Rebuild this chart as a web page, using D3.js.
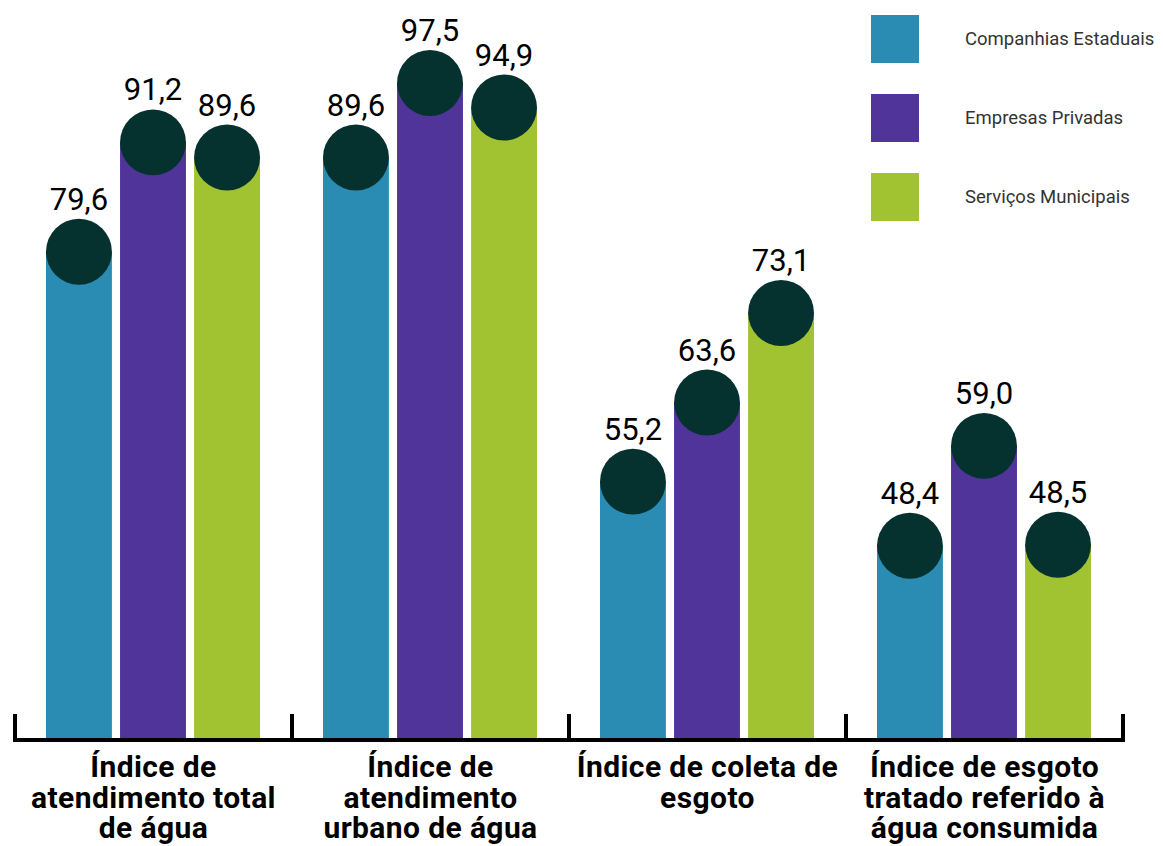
<!DOCTYPE html>
<html><head><meta charset="utf-8">
<script src="https://cdn.jsdelivr.net/npm/d3@7"></script>
<style>body{margin:0;background:#fff}svg{display:block}</style>
</head><body>
<svg id="chart" width="1163" height="846"></svg>
<script>
const categories = [
  ["Índice de","atendimento total","de água"],
  ["Índice de","atendimento","urbano de água"],
  ["Índice de coleta de","esgoto"],
  ["Índice de esgoto","tratado referido à","água consumida"]
];
const seriesNames = ["Companhias Estaduais","Empresas Privadas","Serviços Municipais"];
const companhias = [79.6, 89.6, 55.2, 48.4];
const privadas   = [91.2, 97.5, 63.6, 59.0];
const municipais = [89.6, 94.9, 73.1, 48.5];
const colors = ["#2a8cb3", "#50349a", "#a1c332"];
const series = [companhias, privadas, municipais];

const svg = d3.select("#chart");
const x0 = d3.scaleBand().domain(d3.range(categories.length)).range([15, 1123]).padding(0);
const x1 = d3.scaleBand().domain(d3.range(3)).range([31, 245]).paddingInner(0.11);
const y = d3.scaleLinear().domain([28, 97.5]).range([738, 83]);
const fmt = v => v.toFixed(1).replace(".", ",");

const groups = svg.append("g").selectAll("g").data(categories).join("g")
  .attr("transform", (d,i) => `translate(${x0(i)},0)`);

groups.each(function(cat, ci){
  const g = d3.select(this);
  series.forEach((s, si) => {
    const v = s[ci];
    const bx = x1(si), bw = x1.bandwidth();
    g.append("rect").attr("x", bx).attr("width", bw)
      .attr("y", y(v)).attr("height", y(28) - y(v)).attr("fill", colors[si]);
    g.append("circle").attr("cx", bx + bw/2).attr("cy", y(v)).attr("r", bw/2).attr("fill", "#05312f");
    g.append("text").attr("x", bx + bw/2).attr("y", y(v) - bw/2 - 9)
      .attr("text-anchor", "middle").attr("font-family", "Roboto, sans-serif")
      .attr("font-size", 31).attr("fill", "#000").text(fmt(v));
  });
});

// axis
const ax = svg.append("g").attr("transform", "translate(0,740)");
ax.append("line").attr("x1", 13).attr("x2", 1125).attr("stroke", "#000").attr("stroke-width", 4);
const tickPos = d3.range(categories.length + 1).map(i => i < categories.length ? x0(i) : x0(categories.length-1) + x0.bandwidth());
ax.selectAll(".tk").data(tickPos).join("line").attr("class","tk")
  .attr("x1", d => d).attr("x2", d => d).attr("y1", -26).attr("y2", 2)
  .attr("stroke", "#000").attr("stroke-width", 4);

// category labels
groups.append("text").attr("text-anchor", "middle")
  .attr("font-family", "Roboto, sans-serif").attr("font-weight", 700).attr("font-size", 30)
  .attr("letter-spacing", 0.4).attr("fill", "#000")
  .each(function(lines){
    const t = d3.select(this);
    lines.forEach((l, li) => t.append("tspan").attr("x", x0.bandwidth()/2).attr("y", 777 + li*30.5).text(l));
  });

// legend
const leg = svg.append("g").selectAll("g").data(seriesNames).join("g")
  .attr("transform", (d,i) => `translate(871,${15 + i*79})`);
leg.append("rect").attr("width", 48).attr("height", 48).attr("fill", (d,i) => colors[i]);
leg.append("text").attr("x", 94).attr("y", 24).attr("dy", "0.35em")
  .attr("font-family", "Roboto, sans-serif").attr("font-size", 18.5).attr("fill", "#333").text(d => d);
</script>
</body></html>
